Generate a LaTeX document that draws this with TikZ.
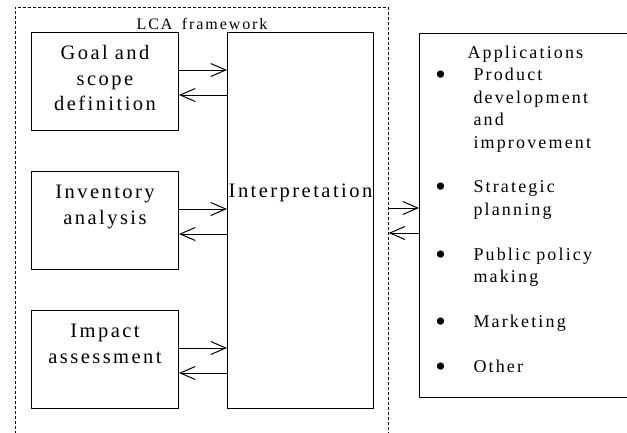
\documentclass[tikz,border=0pt]{standalone}
\usepackage{fontspec}
\setmainfont{Liberation Serif}[LetterSpace=12, WordSpace=1.6]
\usetikzlibrary{arrows.meta,positioning}
\newcommand{\appbullet}{\hspace*{21pt}\makebox[0pt]{\raisebox{-4pt}{\fontsize{30}{30}\selectfont\textbullet}}}

\begin{document}
\begin{tikzpicture}[
  x=1pt, y=-1pt,
  stage/.style={draw, line width=1pt, inner sep=0pt, align=center, text width=147pt,
    text height=27pt, text depth=71pt, font=\fontsize{20.5}{25.5}\selectfont},
  appbox/.style={draw, line width=1pt, inner sep=0pt, align=left, text width=230pt,
    text height=25pt, text depth=339pt, font=\fontsize{18}{22.4}\selectfont},
  lcaframe/.style={draw, line width=0.7pt, dash pattern=on 3pt off 2pt, inner sep=0pt,
    minimum width=373pt, minimum height=450pt},
  arrow/.style={-{Straight Barb[length=15pt,width=13pt]}, line width=1pt}
]
\clip (0,0) rectangle (627,432);
\fill[white] (0,0) rectangle (627,432);

\node[lcaframe, anchor=north west] (lca) at (15,7) {};
\node[font=\fontsize{16}{19}\selectfont, anchor=base] (lcatitle) at (202,29) {LCA framework};

\node[stage, anchor=north west] (goal) at (31,32) {Goal and\\scope\\definition};
\node[stage, below=40pt of goal] (inv) {Inventory\\analysis};
\node[stage, below=40pt of inv] (imp) {Impact\\assessment};
\node[stage, right=48pt of goal.north east, anchor=north west, text width=146pt,
  text height=165pt, text depth=211pt] (interp) {Interpretation};

\node[appbox, anchor=north west] (apps) at (419,33) {%
  \begin{tabular}[t]{@{}p{54pt}@{}l@{}}
  \multicolumn{2}{@{\hspace{48pt}}l@{}}{Applications}\\
  \appbullet & Product\\
   & development\\
   & and\\
   & improvement\\[22.4pt]
  \appbullet & Strategic\\
   & planning\\[22.4pt]
  \appbullet & Public policy\\
   & making\\[22.4pt]
  \appbullet & Marketing\\[22.4pt]
  \appbullet & Other
  \end{tabular}};

% arrows between the phases and the interpretation
\foreach \s in {goal,inv,imp} {
  \coordinate (\s-out) at ([yshift=-38pt]\s.north east);
  \coordinate (\s-in) at ([yshift=-63pt]\s.north east);
  \draw[arrow] (\s-out) -- (\s-out -| interp.west);
  \draw[arrow] (\s-in -| interp.west) -- (\s-in);
}

% arrows between the framework and the applications
\coordinate (use-out) at ([yshift=-176pt]interp.north east);
\coordinate (use-in) at ([yshift=-201pt]interp.north east);
\draw[arrow] (use-out -| lca.east) -- (use-out -| apps.west);
\draw[arrow] (use-in -| apps.west) -- (use-in -| lca.east);
\end{tikzpicture}
\end{document}
